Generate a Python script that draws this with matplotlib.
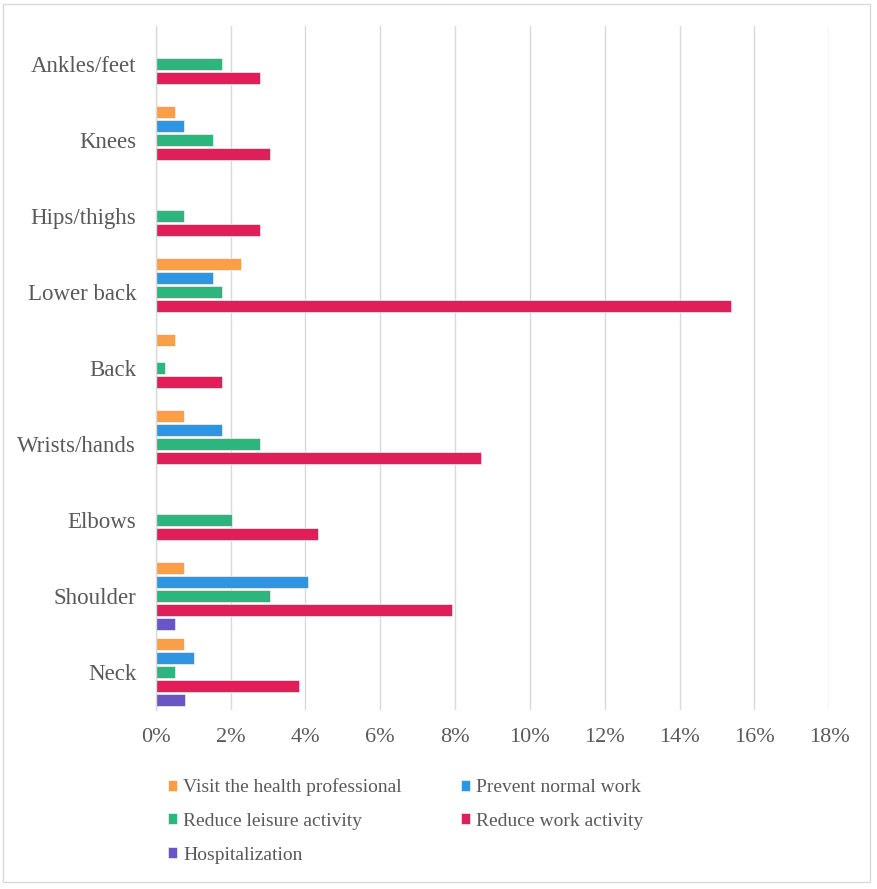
import matplotlib
matplotlib.use("Agg")
import matplotlib.pyplot as plt
from matplotlib.patches import Rectangle
import numpy as np

# body regions, bottom to top as drawn
regions = ["Neck", "Shoulder", "Elbows", "Wrists/hands", "Back",
           "Lower back", "Hips/thighs", "Knees", "Ankles/feet"]

# percentages per region (same order as regions)
visit_health = [0.76, 0.76, 0, 0.76, 0.51, 2.29, 0, 0.51, 0]
prevent_work = [1.02, 4.07, 0, 1.78, 0, 1.52, 0, 0.76, 0]
reduce_leisure = [0.51, 3.05, 2.03, 2.79, 0.25, 1.78, 0.76, 1.52, 1.78]
reduce_work = [3.82, 7.91, 4.33, 8.70, 1.78, 15.37, 2.79, 3.05, 2.79]
hospitalization = [0.78, 0.52, 0, 0, 0, 0, 0, 0, 0]

series = [
    ("Visit the health professional", visit_health, "#F99F47"),
    ("Prevent normal work", prevent_work, "#2F95E0"),
    ("Reduce leisure activity", reduce_leisure, "#2CB67D"),
    ("Reduce work activity", reduce_work, "#E01E5A"),
    ("Hospitalization", hospitalization, "#6A55C5"),
]

plt.rcParams['font.family'] = ['Liberation Serif', 'DejaVu Serif']
textcol = "#595959"
gridcol = "#D9D9D9"

fig = plt.figure(figsize=(8.77, 8.89), dpi=100)
ax = fig.add_axes([0.1775, 0.2013, 0.9456 - 0.1775, 0.9708 - 0.2013])

ypos = np.arange(len(regions))
slot = 0.184
height = 0.158
handles = {}
for i, (label, vals, color) in enumerate(series):
    # first series sits on top of the group
    offs = (2 - i) * slot
    bars = ax.barh(ypos + offs, vals, height=height, color=color,
                   edgecolor="white", linewidth=0.4, label=label, zorder=3)
    handles[label] = bars

ax.set_xlim(0, 18)
ax.set_ylim(-0.5, len(regions) - 0.5)
ax.set_xticks(np.arange(0, 19, 2))
ax.set_xticklabels([f"{v}%" for v in range(0, 19, 2)])
ax.set_yticks(ypos)
ax.set_yticklabels(regions)
ax.tick_params(axis='y', length=0, pad=14, labelsize=16.5, labelcolor=textcol)
ax.tick_params(axis='x', length=0, pad=13, labelsize=16, labelcolor=textcol)
ax.grid(axis='x', color=gridcol, linewidth=1, zorder=0)
for side in ['top', 'right', 'bottom']:
    ax.spines[side].set_visible(False)
ax.spines['left'].set_color(gridcol)
ax.spines['left'].set_linewidth(1)
ax.spines['left'].set_zorder(4)

order = ["Visit the health professional", "Reduce leisure activity", "Hospitalization",
         "Prevent normal work", "Reduce work activity"]
leg = fig.legend([handles[k] for k in order], order, ncol=2, frameon=False,
                 loc='upper left', bbox_to_anchor=(0.1804, 0.1355),
                 bbox_transform=fig.transFigure, prop={'size': 14},
                 handlelength=0.47, handleheight=0.5, handletextpad=0.3,
                 columnspacing=3.05, labelspacing=0.86, borderpad=0)
for t in leg.get_texts():
    t.set_color(textcol)

# outer chart border
fig.patches.append(Rectangle((3 / 877, 1 - 882 / 889), 867 / 877, 878 / 889,
                             transform=fig.transFigure, fill=False,
                             edgecolor=gridcol, linewidth=1))

fig.savefig("out.png", dpi=100)
